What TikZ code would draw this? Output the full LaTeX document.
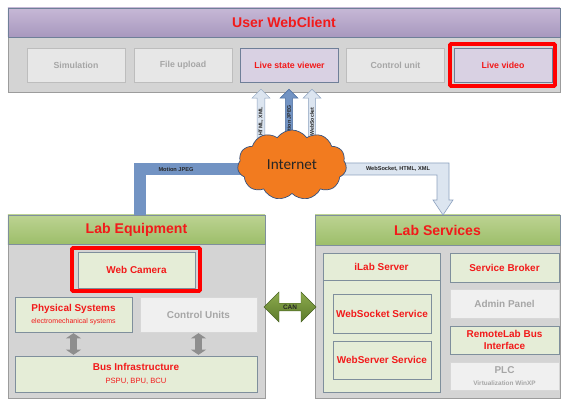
\documentclass[tikz,border=0pt]{standalone}
\usepackage{fontspec}
\setmainfont{Liberation Sans}
\newfontfamily\cloudfont{Carlito}
\usepackage{xcolor}
\usepackage{tikz}
\usetikzlibrary{positioning, calc, arrows.meta, shapes.symbols, shapes.arrows}

\newcommand{\fsz}[1]{\fontsize{#1}{#1}\selectfont}

\definecolor{txtred}{HTML}{F21A1A}
\definecolor{txtdim}{HTML}{A6A6A6}
\definecolor{panelfill}{HTML}{D4D4D4}
\definecolor{panelline}{HTML}{9C9C9C}
\definecolor{violettop}{HTML}{C6B8D6}
\definecolor{violetbot}{HTML}{A898BE}
\definecolor{violetline}{HTML}{6F7F98}
\definecolor{violetfill}{HTML}{D9D1E3}
\definecolor{greentop}{HTML}{BCD392}
\definecolor{greenbot}{HTML}{9DBE6A}
\definecolor{greenline}{HTML}{7F8F9C}
\definecolor{greenfill}{HTML}{E5EDD7}
\definecolor{btnfill}{HTML}{E7E7E7}
\definecolor{btnline}{HTML}{BDBDBD}
\definecolor{paleblue}{HTML}{DCE5F0}
\definecolor{paleedge}{HTML}{8DA2BF}
\definecolor{bandblue}{HTML}{7293C3}
\definecolor{bandedge}{HTML}{4A6C9E}
\definecolor{cloudfill}{HTML}{F27B1F}
\definecolor{cloudedge}{HTML}{35527F}
\definecolor{cantop}{HTML}{8DAB4E}
\definecolor{canbot}{HTML}{5B7A2A}
\definecolor{busgray}{HTML}{8E8E8E}

\tikzset{
  panel/.style={draw=panelline, fill=panelfill},
  violethdr/.style={draw=violetline, top color=violettop, bottom color=violetbot,
    text=txtred, font=\bfseries\fsz{12}},
  greenhdr/.style={draw=greenline, top color=greentop, bottom color=greenbot,
    text=txtred, font=\bfseries\fsz{12}},
  graybtn/.style={draw=btnline, fill=btnfill, text=txtdim, font=\bfseries\fsz{7.5},
    minimum width=2.94cm, minimum height=1.02cm},
  violetbtn/.style={graybtn, draw=violetline, fill=violetfill, text=txtred},
  greenbox/.style={draw=greenline, fill=greenfill, text=txtred, font=\bfseries\fsz{8.5}, align=center},
  whitebox/.style={draw=btnline!60, fill=white!94!black, text=txtdim, font=\bfseries\fsz{8.5}, align=center},
  hilite/.style={draw=red, line width=3.3pt, rounded corners=1pt},
  uparrow/.style={single arrow, draw=paleedge, fill=paleblue, rotate=90,
    minimum height=1.83cm, minimum width=0.54cm, single arrow head extend=0.1cm,
    font=\bfseries\fsz{4.5}, text=black!85},
  busarrow/.style={draw=busgray, line width=5.5pt,
    {Triangle[length=4.5pt,width=13pt]}-{Triangle[length=4.5pt,width=13pt]}},
  tinylbl/.style={font=\bfseries\fsz{4.8}, text=black!85}
}

\begin{document}
\begin{tikzpicture}[x=0.03cm, y=-0.03cm, every node/.style={inner sep=0pt, outer sep=0pt}]
\useasboundingbox (0,0) rectangle (567,400);

% user web client
\node[panel, minimum width=16.56cm, minimum height=1.65cm] (webBody) at (284,64.5) {};
\node[violethdr, minimum width=16.56cm, minimum height=0.87cm] (webHdr) at (284,22.5) {User WebClient};
\node[graybtn] (sim) at (76,65) {Simulation};
\node[graybtn] (upl) at (183,65) {File upload};
\node[violetbtn] (lsv) at (289.5,65) {Live state viewer};
\node[graybtn] (ctl) at (395.5,65) {Control unit};
\node[violetbtn] (vid) at (503,65) {Live video};
\node[hilite, minimum width=3.15cm, minimum height=1.26cm] (vidHL) at (502.5,65) {};

% lab equipment
\node[panel, minimum width=7.71cm, minimum height=4.62cm] (eqBody) at (136.5,321) {};
\node[greenhdr, minimum width=7.71cm, minimum height=0.87cm] (eqHdr) at (136.5,229.5) {Lab Equipment};
\node[greenbox, minimum width=3.51cm, minimum height=1.08cm] (cam) at (136.5,270) {Web Camera};
\node[hilite, minimum width=3.84cm, minimum height=1.29cm] (camHL) at (136,269.5) {};
\node[greenbox, minimum width=3.51cm, minimum height=1.05cm] (phys) at (73.5,314.5)
  {Physical Systems\\[1.5pt]{\mdseries\fsz{6}electromechanical systems}};
\node[whitebox, minimum width=3.51cm, minimum height=1.05cm] (ctrlu) at (198.5,314.5) {Control Units};
\node[greenbox, minimum width=7.26cm, minimum height=1.08cm] (bus) at (136,374)
  {Bus Infrastructure\\[2pt]{\mdseries\fsz{6.5}PSPU, BPU, BCU}};
\draw[busarrow] ([yshift=-1pt]phys.south) -- ([yshift=1pt]phys.south |- bus.north);
\draw[busarrow] ([yshift=-1pt]ctrlu.south) -- ([yshift=1pt]ctrlu.south |- bus.north);

% lab services
\node[panel, minimum width=7.35cm, minimum height=4.59cm] (srvBody) at (437.5,321.5) {};
\node[greenhdr, minimum width=7.35cm, minimum height=0.9cm] (srvHdr) at (437.5,230) {Lab Services};
\node[greenbox, minimum width=3.51cm, minimum height=4.17cm] (ilab) at (381.5,322.5) {};
\node[greenbox, minimum width=3.51cm, minimum height=0.81cm] (ilabT) at (381.5,266.5) {iLab Server};
\node[greenbox, minimum width=2.94cm, minimum height=1.17cm] (wsock) at (382,313.5) {WebSocket Service};
\node[greenbox, minimum width=2.94cm, minimum height=1.14cm] (wserv) at (382,360) {WebServer Service};
\node[greenbox, minimum width=3.27cm, minimum height=0.87cm] (broker) at (504.5,267.5) {Service Broker};
\node[whitebox, minimum width=3.27cm, minimum height=0.87cm] (admin) at (504.5,303.5) {Admin Panel};
\node[greenbox, minimum width=3.27cm, minimum height=0.84cm] (rlbus) at (504.5,340) {RemoteLab Bus\\[1pt]Interface};
\node[whitebox, minimum width=3.27cm, minimum height=0.84cm] (plc) at (504.5,376)
  {PLC\\[1.5pt]{\fsz{5.5}Virtualization WinXP}};

% CAN link
\node[double arrow, draw=canbot!80!black, top color=cantop, bottom color=canbot,
  minimum height=1.56cm, minimum width=0.9cm, double arrow head extend=0.225cm,
  font=\bfseries\fsz{5.5}, text=black!85] (can) at ($(eqBody.east |- 0,307)!0.5!(srvBody.west |- 0,307)$) {CAN};

% internet links
\coordinate (mj) at (140,169);
\coordinate (wsA) at (443,169);
\draw[draw=bandedge, line width=0.4pt, double=bandblue, double distance=9.4pt]
  (eqHdr.north -| mj) -- (mj) -- (mj -| 292,0);
\node[tinylbl] (mjLbl) at (176,169) {Motion JPEG};
\filldraw[draw=paleedge, fill=paleblue, line width=0.5pt]
  ($(292,0 |- wsA)+(0,-6)$) -- ($(wsA)+(6,-6)$) -- ($(wsA)+(6,31)$) -- ($(wsA)+(10,31)$)
  -- (srvHdr.north -| wsA) -- ($(wsA)+(-10,31)$) -- ($(wsA)+(-6,31)$) -- ($(wsA)+(-6,6)$)
  -- ($(292,0 |- wsA)+(0,6)$) -- cycle;
\node[tinylbl] (wsLbl) at (398,169) {WebSocket, HTML, XML};

\node[uparrow] (upHtml) at (261,121.5) {HTML, XML};
\node[uparrow, draw=bandedge, fill=bandblue] (upMjpg) at (289,121.5) {Motion JPEG};
\node[uparrow] (upWs) at (312,121.5) {WebSocket};

\node[cloud, cloud puffs=11, cloud puff arc=110, aspect=1.6, draw=cloudedge, fill=cloudfill,
  line width=0.6pt, minimum width=3.27cm, minimum height=2.1cm,
  font=\cloudfont\fsz{13}, text=black!85] (cloud) at (292,165) {Internet};
\end{tikzpicture}
\end{document}
